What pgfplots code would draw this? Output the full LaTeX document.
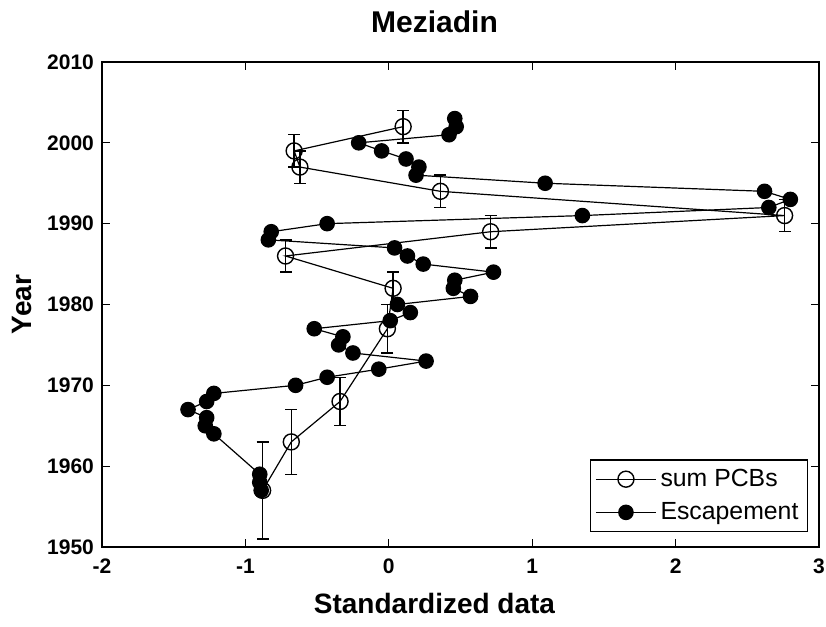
\documentclass[border=0pt]{standalone}
\usepackage{fontspec}
\setmainfont{Liberation Sans}
\usepackage{pgfplots}
\pgfplotsset{compat=1.18}
\begin{document}
\begin{tikzpicture}
\begin{axis}[
  scale only axis,
  width=358.5pt, height=242.5pt,
  xmin=-2, xmax=3, ymin=1950, ymax=2010,
  xtick={-2,-1,0,1,2,3}, ytick={1950,1960,1970,1980,1990,2000,2010},
  /pgf/number format/assume math mode=true,
  /pgf/number format/set thousands separator={},
  tick label style={font=\fontsize{10.5}{12}\selectfont\bfseries},
  xticklabel style={yshift=-2.5pt},
  yticklabel style={xshift=-0.5pt},
  axis line style={line width=0.75pt},
  major tick length=4pt,
  tick style={line width=0.6pt, black},
  title={\fontsize{15}{18}\selectfont\bfseries Meziadin},
  title style={at={([xshift=-13pt,yshift=20pt]axis description cs:0.5,1)}, anchor=center, yshift=-6pt},
  xlabel={\fontsize{14}{17}\selectfont\bfseries Standardized data},
  ylabel={\fontsize{14}{17}\selectfont\bfseries Year},
  xlabel style={at={([xshift=-13pt,yshift=-28pt]axis description cs:0.5,0)}, anchor=center},
  ylabel style={at={([xshift=-40pt]axis description cs:0,0.5)}, anchor=center, rotate=0},
  legend style={at={(rel axis cs:1,0)}, anchor=south east, xshift=-5.5pt, yshift=7.5pt,
    font=\fontsize{12.4}{15}\selectfont, draw=black, line width=0.6pt, inner sep=2.5pt,
    row sep=2.5pt},
  legend cell align=left,
  legend image code/.code={\draw[mark repeat=2,mark phase=2] plot coordinates {(0pt,0pt)(15pt,0pt)(30pt,0pt)};},
]
\addplot[black, line width=0.6pt, mark=o, mark size=4pt, mark options={line width=0.7pt, fill=none},
  error bars/.cd, y dir=both, y explicit,
  error bar style={line width=0.7pt}, error mark options={rotate=90, mark size=3pt, line width=0.7pt}]
  table[x=x, y=y, y error=e] {
x y e
0.10 2002 2
-0.66 1999 2
-0.62 1997 2
0.36 1994 2
2.76 1991 2
0.71 1989 2
-0.72 1986 2
0.03 1982 2
-0.01 1977 3
-0.34 1968 3
-0.68 1963 4
-0.88 1957 6
};
\addlegendentry{sum PCBs}
\addplot[black, line width=0.6pt, mark=*, mark size=3.6pt, mark options={fill=black}]
  table[x=x, y=y] {
x y
0.46 2003
0.47 2002
0.42 2001
-0.21 2000
-0.05 1999
0.12 1998
0.21 1997
0.19 1996
1.09 1995
2.62 1994
2.80 1993
2.65 1992
1.35 1991
-0.43 1990
-0.82 1989
-0.84 1988
0.04 1987
0.13 1986
0.24 1985
0.73 1984
0.46 1983
0.45 1982
0.57 1981
0.06 1980
0.15 1979
0.01 1978
-0.52 1977
-0.32 1976
-0.35 1975
-0.25 1974
0.26 1973
-0.07 1972
-0.43 1971
-0.65 1970
-1.22 1969
-1.27 1968
-1.40 1967
-1.27 1966
-1.28 1965
-1.22 1964
-0.90 1959
-0.90 1958
-0.89 1957
};
\addlegendentry{Escapement}
\end{axis}
\pgfresetboundingbox
\path[use as bounding box] ([shift={(-51pt,-40pt)}]current axis.south west) rectangle ([shift={(3.5pt,31pt)}]current axis.north east);
\end{tikzpicture}
\end{document}
